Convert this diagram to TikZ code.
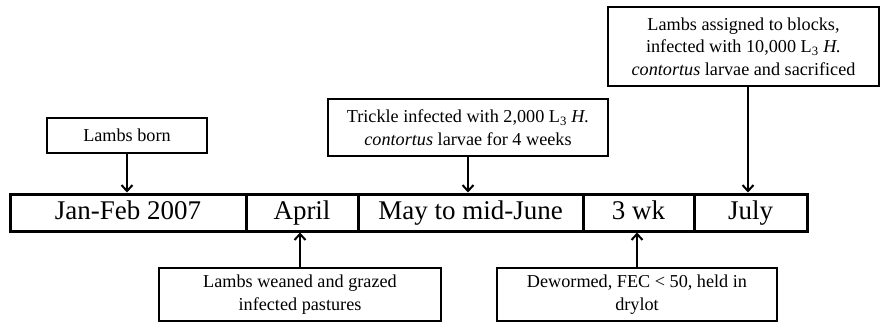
\documentclass[tikz,border=0pt]{standalone}
\usepackage{fontspec}
\setmainfont{Liberation Serif}
\usetikzlibrary{arrows.meta}
\tikzset{
  note/.style={draw, line width=2pt, align=center, inner sep=0pt,
    font=\fontsize{18.2}{22.5}\selectfont},
  cell/.style={draw, line width=3pt, inner sep=0pt, minimum height=37pt,
    text height=18pt, text depth=5pt,
    font=\fontsize{27}{30}\selectfont},
  arr/.style={line width=2pt, -{Straight Barb[length=6pt,width=11pt]}}
}
\begin{document}
\begin{tikzpicture}[x=1pt,y=-1pt]
\useasboundingbox (0,0) rectangle (880,324);
% timeline bar
\node[cell, minimum width=236pt] (c1) at (128,212.5) {Jan-Feb 2007};
\node[cell, minimum width=112pt] (c2) at (302,212.5) {April};
\node[cell, minimum width=225pt] (c3) at (470.5,212.5) {May to mid-June};
\node[cell, minimum width=111pt] (c4) at (638.5,212.5) {3 wk};
\node[cell, minimum width=113pt] (c5) at (750.5,212.5) {July};
% notes above
\node[note, minimum width=160pt, minimum height=35pt] (born) at (127,135.5) {Lambs born};
\node[note, minimum width=280pt, minimum height=57pt] (trickle) at (468,127.5)
  {Trickle infected with 2,000 L\textsubscript{3} \textit{H.}\\\textit{contortus} larvae for 4 weeks};
\node[note, minimum width=271pt, minimum height=79pt] (assigned) at (743.5,46.5)
  {Lambs assigned to blocks,\\infected with 10,000 L\textsubscript{3} \textit{H.}\\\textit{contortus} larvae and sacrificed};
% notes below
\node[note, minimum width=282pt, minimum height=53pt] (weaned) at (300,294.5)
  {Lambs weaned and grazed\\infected pastures};
\node[note, minimum width=280pt, minimum height=53pt] (dewormed) at (637,294.5)
  {Dewormed, FEC < 50, held in\\drylot};
% connectors
\draw[arr] (born.south) -- (born.south |- c1.north);
\draw[arr] (trickle.south) -- (trickle.south |- c3.north);
\draw[arr] (assigned.south -| 748,0) -- (748,0 |- c5.north);
\draw[arr] (weaned.north) -- (weaned.north |- c2.south);
\draw[arr] (dewormed.north) -- (dewormed.north |- c4.south);
\end{tikzpicture}
\end{document}
